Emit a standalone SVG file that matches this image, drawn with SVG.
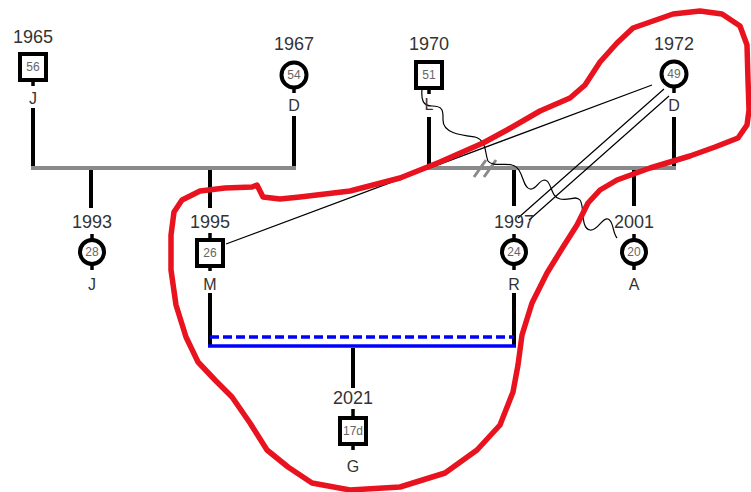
<svg xmlns="http://www.w3.org/2000/svg" width="751" height="492" viewBox="0 0 751 492">
<style>
text{font-family:"Liberation Sans",Arial,sans-serif;text-anchor:middle}
.yr{font-size:18px;fill:#333}
.nm{font-size:16px;fill:#333}
.age{font-size:12px;fill:#666}
.box{fill:#fff;stroke:#000;stroke-width:4}
.tick{stroke:#000;stroke-width:3.5}
.v{stroke:#000;stroke-width:4;fill:none}
.bar{stroke:#8a8a8a;stroke-width:4;fill:none}
.thin{stroke:#000;stroke-width:1.2;fill:none}
.blue{stroke:#0000ff;stroke-width:3.5;fill:none}
</style>
<rect width="751" height="492" fill="#fff"/>
<g id="connectors">
<path class="v" d="M33,108V168M294,116V168M91,168V208M210,168V208M429,117V168M674,117V168M514,168V206M634,168V206M210,293V346M514,293V346M353,348V388"/>
<path class="bar" d="M31,168H296M427,168H676"/>
<path d="M474,177L486,160M484,177L496,160" stroke="#8a8a8a" stroke-width="3" fill="none"/>
<path class="blue" d="M210,337H514" stroke-dasharray="9,4"/>
<path class="blue" d="M208,346H516" stroke-width="4"/>
<path class="thin" d="M652,85L226,244M664,89L518,218M669,96L529,220"/>
<path class="thin" d="M422,89 C421,100 423,106 432,106 C444,106 443,112 443,120 C443,133 460,135 475,137 C487,140 485,155 488,161 C492,167 505,163 512,165 C524,168 522,188 530,189 C537,190 538,180 545,180 C552,181 550,197 560,199 C570,201 576,195 580,200 C585,207 580,228 590,230 C598,231 602,217 608,219 C614,221 612,232 617,238"/>
</g>
<g id="n1965">
<text class="yr" x="33" y="43">1965</text>
<line class="tick" x1="33" y1="80" x2="33" y2="86"/>
<rect class="box" x="20" y="54" width="26" height="26"/>
<text class="age" x="33" y="71">56</text>
<text class="nm" x="33" y="104">J</text>
</g>
<g id="n1967">
<text class="yr" x="294" y="50">1967</text>
<line class="tick" x1="294" y1="87" x2="294" y2="93"/>
<circle class="box" cx="294" cy="75" r="12.5"/>
<text class="age" x="294" y="79">54</text>
<text class="nm" x="294" y="111">D</text>
</g>
<g id="n1970">
<text class="yr" x="429" y="50">1970</text>
<line class="tick" x1="429" y1="88" x2="429" y2="94"/>
<rect class="box" x="416" y="62" width="26" height="26"/>
<text class="age" x="429" y="79">51</text>
<text class="nm" x="429" y="110">L</text>
</g>
<g id="n1972">
<text class="yr" x="674" y="50">1972</text>
<line class="tick" x1="674" y1="86" x2="674" y2="93"/>
<circle class="box" cx="674" cy="74" r="12.5"/>
<text class="age" x="674" y="78">49</text>
<text class="nm" x="674" y="111">D</text>
</g>
<g id="n1993">
<text class="yr" x="92" y="228">1993</text>
<line class="tick" x1="92" y1="234" x2="92" y2="270"/>
<circle class="box" cx="92" cy="252" r="12"/>
<text class="age" x="92" y="256">28</text>
<text class="nm" x="92" y="290">J</text>
</g>
<g id="n1995">
<text class="yr" x="210" y="228">1995</text>
<line class="tick" x1="210" y1="233" x2="210" y2="271"/>
<rect class="box" x="197" y="240" width="26" height="26"/>
<text class="age" x="210" y="257">26</text>
<text class="nm" x="210" y="290">M</text>
</g>
<g id="n1997">
<text class="yr" x="514" y="228">1997</text>
<line class="tick" x1="514" y1="234" x2="514" y2="270"/>
<circle class="box" cx="514" cy="252" r="12"/>
<text class="age" x="514" y="256">24</text>
<text class="nm" x="514" y="290">R</text>
</g>
<g id="n2001">
<text class="yr" x="634" y="228">2001</text>
<line class="tick" x1="634" y1="234" x2="634" y2="270"/>
<circle class="box" cx="634" cy="252" r="12"/>
<text class="age" x="634" y="256">20</text>
<text class="nm" x="634" y="290">A</text>
</g>
<g id="n2021">
<text class="yr" x="353" y="404">2021</text>
<line class="tick" x1="353" y1="409" x2="353" y2="450"/>
<rect class="box" x="340" y="418" width="26" height="26"/>
<text class="age" x="353" y="435">17d</text>
<text class="nm" x="353" y="472">G</text>
</g>
<g id="annotation">
<path fill="none" stroke="#e8131f" stroke-width="5.5" stroke-linejoin="round" stroke-linecap="round" d="M263,197 L280,199 L300,197 L350,191 L400,178 L440,162 L483,143 L507,130 L540,111 L570,98 L585,85 L600,62 L617,43 L633,28 L653,21 L673,14 L700,11 L722,14 L740,26 L747,45 L748,80 L749,110 L747,125 L738,138 L715,147 L690,156 L650,168 L617,180 L600,190 L588,203 L577,225 L563,247 L547,273 L532,303 L522,335 L518,365 L513,392 L500,425 L477,450 L445,473 L400,487 L350,490 L312,483 L288,467 L267,450 L250,423 L232,397 L215,380 L198,362 L186,337 L176,305 L171,270 L171,235 L174,212 L182,200 L200,191 L225,188 L252,187 L257,185 Z"/>
</g>
</svg>
